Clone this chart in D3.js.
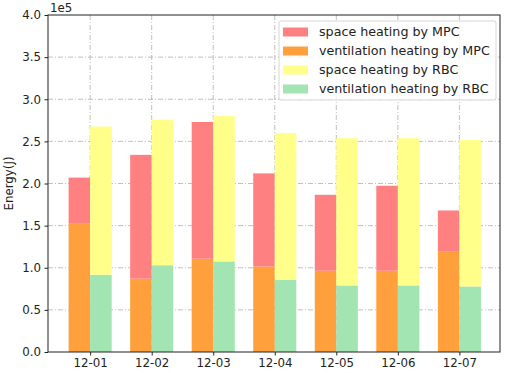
<!DOCTYPE html>
<html>
<head>
<meta charset="utf-8">
<script src="https://cdn.jsdelivr.net/npm/d3@7"></script>
<style>
  body { margin: 0; background: #fff; }
  svg text { font-family: "DejaVu Sans", sans-serif; fill: #222; }
</style>
</head>
<body>
<div class="chart"></div>
<script>
// values in units of 1e5 J
const days = ["12-01", "12-02", "12-03", "12-04", "12-05", "12-06", "12-07"];
const ventMPC = [1.53, 0.87, 1.107, 1.015, 0.964, 0.964, 1.19];
const spaceMPC = [0.54, 1.47, 1.623, 1.105, 0.902, 1.009, 0.49];
const ventRBC = [0.917, 1.03, 1.075, 0.858, 0.79, 0.79, 0.778];
const spaceRBC = [1.759, 1.726, 1.725, 1.742, 1.748, 1.748, 1.737];
const yTicks = [0, 0.5, 1, 1.5, 2, 2.5, 3, 3.5, 4];
const legendLabels = ["space heating by MPC", "ventilation heating by MPC",
  "space heating by RBC", "ventilation heating by RBC"];

const width = 505, height = 373;
const margin = { top: 15, right: 5, bottom: 21, left: 48 };
const colors = ["#ff8080", "#ffa03c", "#ffff8a", "#a2e5b3"];
const barW = 0.35;

const svg = d3.select(".chart").append("svg")
  .attr("width", width).attr("height", height);

const x = d3.scaleLinear()
  .domain([-0.685, days.length - 1 + 0.66])
  .range([margin.left, width - margin.right]);
const y = d3.scaleLinear()
  .domain([0, 4])
  .range([height - margin.bottom, margin.top]);

const gridStyle = g => g.attr("stroke", "#b0b0b0").attr("stroke-width", 0.8)
  .attr("stroke-dasharray", "5,2,1,2");

// gridlines
svg.append("g").call(gridStyle)
  .selectAll("line").data(yTicks.slice(1, -1)).join("line")
  .attr("x1", margin.left).attr("x2", width - margin.right)
  .attr("y1", d => y(d)).attr("y2", d => y(d));
svg.append("g").call(gridStyle)
  .selectAll("line").data(days).join("line")
  .attr("x1", (d, i) => x(i)).attr("x2", (d, i) => x(i))
  .attr("y1", margin.top).attr("y2", height - margin.bottom);

// bars
const stacks = [
  { off: -barW, parts: [[ventMPC, colors[1]], [spaceMPC, colors[0]]] },
  { off: 0, parts: [[ventRBC, colors[3]], [spaceRBC, colors[2]]] }
];
stacks.forEach(s => {
  let base = days.map(() => 0);
  s.parts.forEach(([vals, col]) => {
    const b0 = base.slice();
    svg.append("g").selectAll("rect").data(vals).join("rect")
      .attr("x", (d, i) => x(i + s.off))
      .attr("width", x(barW) - x(0))
      .attr("y", (d, i) => y(b0[i] + d))
      .attr("height", (d, i) => y(b0[i]) - y(b0[i] + d))
      .attr("fill", col);
    base = base.map((v, i) => v + vals[i]);
  });
});

// axes
const yAxis = d3.axisLeft(y).tickValues(yTicks).tickFormat(d3.format(".1f"))
  .tickSize(3.5).tickPadding(3.5);
svg.append("g").attr("transform", `translate(${margin.left},0)`).call(yAxis)
  .call(g => g.select(".domain").remove())
  .call(g => g.selectAll("text").style("font-size", "11.8px").attr("fill", "#222"))
  .call(g => g.selectAll("line").attr("stroke", "#222"));

const xAxis = d3.axisBottom(x).tickValues(d3.range(days.length))
  .tickFormat(i => days[i]).tickSize(3.5).tickPadding(3.5);
svg.append("g").attr("transform", `translate(0,${height - margin.bottom})`).call(xAxis)
  .call(g => g.select(".domain").remove())
  .call(g => g.selectAll("text").style("font-size", "11.8px").attr("fill", "#222"))
  .call(g => g.selectAll("line").attr("stroke", "#222"));

// frame
svg.append("rect")
  .attr("x", margin.left).attr("y", margin.top)
  .attr("width", width - margin.right - margin.left)
  .attr("height", height - margin.bottom - margin.top)
  .attr("fill", "none").attr("stroke", "#222").attr("stroke-width", 1);

svg.append("text").attr("x", margin.left + 2).attr("y", margin.top - 3)
  .style("font-size", "11.8px").text("1e5");

svg.append("text")
  .attr("transform", `translate(13,${y(2)}) rotate(-90)`)
  .attr("text-anchor", "middle")
  .style("font-size", "11.8px").text("Energy(J)");

// legend
const lg = svg.append("g").attr("transform", "translate(279,21)");
lg.append("rect").attr("width", 217).attr("height", 79).attr("rx", 2)
  .attr("fill", "#fff").attr("fill-opacity", 0.8)
  .attr("stroke", "#d6d6d6");
legendLabels.forEach((t, i) => {
  const row = lg.append("g").attr("transform", `translate(0,${11 + i * 19})`);
  row.append("rect").attr("x", 4).attr("y", -4.5).attr("width", 25).attr("height", 9)
    .attr("fill", colors[i]);
  row.append("text").attr("x", 40).attr("dy", "0.35em")
    .style("font-size", "12.7px").text(t);
});
</script>
</body>
</html>
